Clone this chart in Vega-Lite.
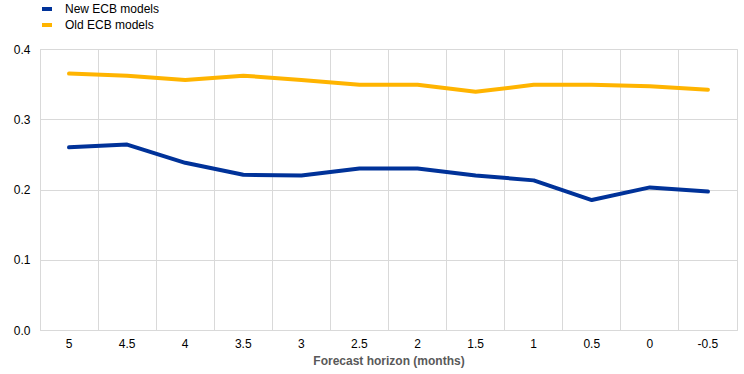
{
  "$schema": "https://vega.github.io/schema/vega-lite/v6.json",
  "width": 697,
  "height": 281,
  "autosize": {"type": "none"},
  "padding": {"left": 40, "top": 49, "right": 7, "bottom": 44},
  "background": "white",
  "config": {
    "font": "Liberation Sans",
    "view": {"stroke": "#d9d9d9", "strokeWidth": 1},
    "axis": {"gridColor": "#d9d9d9", "gridWidth": 1, "labelFontSize": 12, "labelColor": "#000000"}
  },
  "data": {
    "values": [
      {"h": "5", "series": "New ECB models", "v": 0.260},
      {"h": "4.5", "series": "New ECB models", "v": 0.264},
      {"h": "4", "series": "New ECB models", "v": 0.238},
      {"h": "3.5", "series": "New ECB models", "v": 0.221},
      {"h": "3", "series": "New ECB models", "v": 0.220},
      {"h": "2.5", "series": "New ECB models", "v": 0.230},
      {"h": "2", "series": "New ECB models", "v": 0.230},
      {"h": "1.5", "series": "New ECB models", "v": 0.220},
      {"h": "1", "series": "New ECB models", "v": 0.213},
      {"h": "0.5", "series": "New ECB models", "v": 0.185},
      {"h": "0", "series": "New ECB models", "v": 0.203},
      {"h": "-0.5", "series": "New ECB models", "v": 0.197},
      {"h": "5", "series": "Old ECB models", "v": 0.365},
      {"h": "4.5", "series": "Old ECB models", "v": 0.362},
      {"h": "4", "series": "Old ECB models", "v": 0.356},
      {"h": "3.5", "series": "Old ECB models", "v": 0.362},
      {"h": "3", "series": "Old ECB models", "v": 0.356},
      {"h": "2.5", "series": "Old ECB models", "v": 0.349},
      {"h": "2", "series": "Old ECB models", "v": 0.349},
      {"h": "1.5", "series": "Old ECB models", "v": 0.339},
      {"h": "1", "series": "Old ECB models", "v": 0.349},
      {"h": "0.5", "series": "Old ECB models", "v": 0.349},
      {"h": "0", "series": "Old ECB models", "v": 0.347},
      {"h": "-0.5", "series": "Old ECB models", "v": 0.342}
    ]
  },
  "mark": {"type": "line", "strokeWidth": 4, "strokeCap": "round", "strokeJoin": "round"},
  "encoding": {
    "x": {
      "field": "h",
      "type": "ordinal",
      "sort": ["5", "4.5", "4", "3.5", "3", "2.5", "2", "1.5", "1", "0.5", "0", "-0.5"],
      "scale": {"type": "band", "paddingInner": 0, "paddingOuter": 0},
      "axis": {
        "title": "Forecast horizon (months)",
        "titleFontSize": 12,
        "titleFontWeight": "bold",
        "titleColor": "#595959",
        "titlePadding": 6,
        "labelAngle": 0,
        "labelPadding": 8,
        "ticks": false,
        "domain": true,
        "domainColor": "#d9d9d9",
        "grid": true,
        "bandPosition": 0
      }
    },
    "y": {
      "field": "v",
      "type": "quantitative",
      "scale": {"domain": [0, 0.4]},
      "axis": {
        "title": null,
        "values": [0, 0.1, 0.2, 0.3, 0.4],
        "format": ".1f",
        "ticks": false,
        "domain": false,
        "labelPadding": 10
      }
    },
    "color": {
      "field": "series",
      "type": "nominal",
      "scale": {"domain": ["New ECB models", "Old ECB models"], "range": ["#003299", "#FFB400"]},
      "legend": {
        "title": null,
        "orient": "none",
        "legendX": 0,
        "legendY": -47,
        "symbolType": "stroke",
        "symbolSize": 100,
        "symbolStrokeWidth": 4,
        "labelFontSize": 12,
        "labelColor": "#000000",
        "rowPadding": 0,
        "labelOffset": 11
      }
    }
  }
}
